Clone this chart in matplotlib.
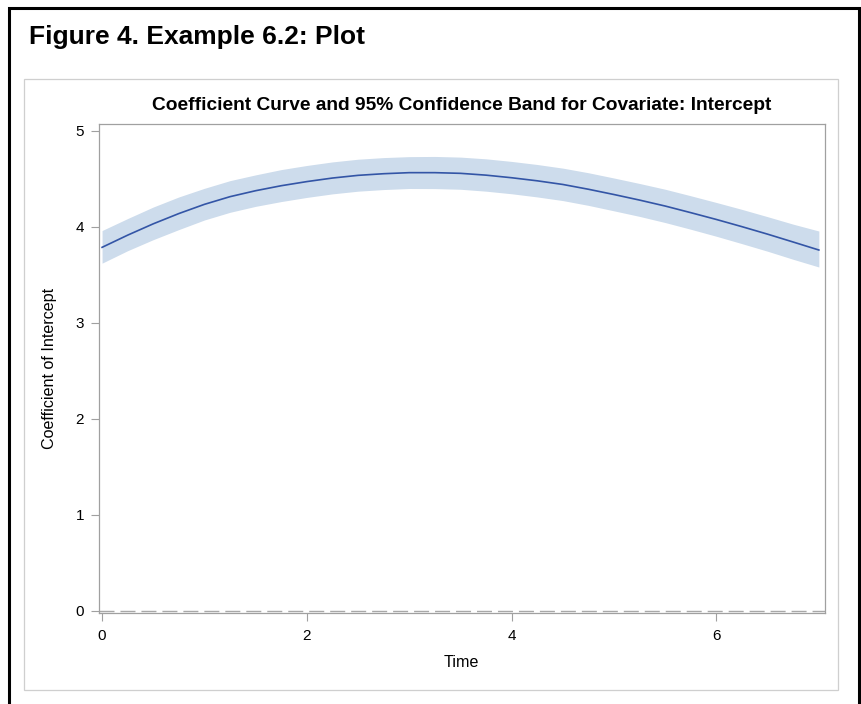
import matplotlib
matplotlib.use("Agg")
import matplotlib.pyplot as plt
from matplotlib.patches import Rectangle

# ---- data ----
time = [0, 0.25, 0.5, 0.75, 1, 1.25, 1.5, 1.75, 2, 2.25, 2.5, 2.75, 3,
        3.25, 3.5, 3.75, 4, 4.25, 4.5, 4.75, 5, 5.25, 5.5, 5.75, 6,
        6.25, 6.5, 6.75, 7]
coef = [3.785, 3.912, 4.03, 4.137, 4.233, 4.313, 4.375, 4.427, 4.47,
        4.507, 4.535, 4.552, 4.563, 4.563, 4.556, 4.537, 4.51, 4.478,
        4.44, 4.39, 4.335, 4.277, 4.215, 4.146, 4.075, 4.0, 3.922, 3.84,
        3.757]
upper = [3.96, 4.085, 4.205, 4.31, 4.40, 4.48, 4.54, 4.595, 4.638,
         4.675, 4.703, 4.72, 4.73, 4.732, 4.725, 4.707, 4.68, 4.648,
         4.61, 4.562, 4.507, 4.45, 4.39, 4.322, 4.252, 4.18, 4.104,
         4.026, 3.955]
lower = [3.62, 3.75, 3.865, 3.97, 4.07, 4.15, 4.212, 4.262, 4.305,
         4.342, 4.37, 4.387, 4.398, 4.397, 4.39, 4.37, 4.343, 4.31,
         4.272, 4.222, 4.165, 4.107, 4.043, 3.973, 3.9, 3.823, 3.744,
         3.66, 3.58]
xticks = [0, 2, 4, 6]
yticks = [0, 1, 2, 3, 4, 5]

fig_title = "Figure 4. Example 6.2: Plot"
plot_title = "Coefficient Curve and 95% Confidence Band for Covariate: Intercept"
xlabel = "Time"
ylabel = "Coefficient of Intercept"

W, H = 862, 704
plt.rcParams['font.family'] = ['Liberation Sans', 'DejaVu Sans']
fig = plt.figure(figsize=(W / 100, H / 100), dpi=100)

# outer black border (bottom edge is outside the image)
fig.patches.append(Rectangle((9 / W, -0.05), (859 - 9) / W, 1.05 - 7.5 / H,
                             transform=fig.transFigure, fill=False,
                             ec='black', lw=2.2, zorder=0))
# inner light gray frame
fig.patches.append(Rectangle((24.5 / W, 1 - 689.5 / H), (838 - 24.5) / W,
                             (689.5 - 78.5) / H, transform=fig.transFigure,
                             fill=False, ec='#cfcfcf', lw=0.9, zorder=0))

fig.text(29 / W, 1 - 44 / H, fig_title, fontsize=19, fontweight='bold',
         ha='left', va='baseline')

L, R, T, B = 99, 825, 124, 613
ax = fig.add_axes([L / W, 1 - B / H, (R - L) / W, (B - T) / H])

ax.fill_between(time, lower, upper, color='#cddcec', lw=0, zorder=1)
ax.plot(time, coef, color='#3355a6', lw=1.2, zorder=3)
ax.axhline(0, color='#a8a8a8', lw=1.0, dashes=(10.8, 4.3), zorder=2)

ax.set_xlim(-0.03, 7.06)
ax.set_ylim(-0.025, 5.07)
ax.set_xticks(xticks)
ax.set_yticks(yticks)
for s in ax.spines.values():
    s.set_color('#a0a0a0')
    s.set_linewidth(0.9)
ax.tick_params(direction='out', length=5.5, width=0.8, color='#a0a0a0',
               labelsize=11, labelcolor='black')
ax.tick_params(axis='x', pad=6.3)
ax.tick_params(axis='y', pad=5.3)

ax.set_title(plot_title, fontsize=13.8, fontweight='bold', pad=10)
ax.set_xlabel(xlabel, fontsize=11.6)
ax.set_ylabel(ylabel, fontsize=11.6)
ax.xaxis.set_label_coords((461 - L) / (R - L), -(655 - B) / (B - T))
ax.yaxis.set_label_coords(-(L - 57) / (R - L), 0.5)

fig.savefig('out.png', dpi=100)
